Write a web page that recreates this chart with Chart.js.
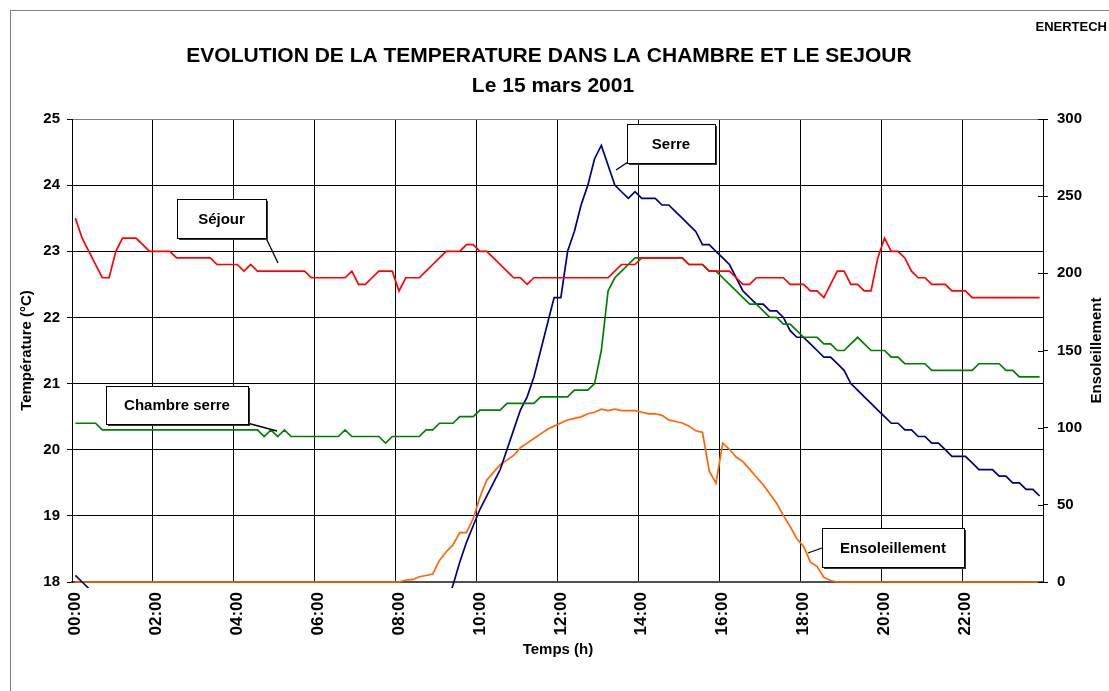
<!DOCTYPE html>
<html lang="fr">
<head>
<meta charset="UTF-8">
<title>Evolution de la température dans la chambre et le séjour</title>
<script src="https://cdn.jsdelivr.net/npm/chart.js"></script>
<style>
  body { margin: 0; background: #fff; }
  #chart { display: block; }
</style>
</head>
<body>
<canvas id="chart" width="1109" height="691"></canvas>
<script>
// pas de 10 minutes sur la journee
const heures = [
  '00:00','00:10','00:20','00:30','00:40','00:50','01:00','01:10','01:20','01:30','01:40','01:50',
  '02:00','02:10','02:20','02:30','02:40','02:50','03:00','03:10','03:20','03:30','03:40','03:50',
  '04:00','04:10','04:20','04:30','04:40','04:50','05:00','05:10','05:20','05:30','05:40','05:50',
  '06:00','06:10','06:20','06:30','06:40','06:50','07:00','07:10','07:20','07:30','07:40','07:50',
  '08:00','08:10','08:20','08:30','08:40','08:50','09:00','09:10','09:20','09:30','09:40','09:50',
  '10:00','10:10','10:20','10:30','10:40','10:50','11:00','11:10','11:20','11:30','11:40','11:50',
  '12:00','12:10','12:20','12:30','12:40','12:50','13:00','13:10','13:20','13:30','13:40','13:50',
  '14:00','14:10','14:20','14:30','14:40','14:50','15:00','15:10','15:20','15:30','15:40','15:50',
  '16:00','16:10','16:20','16:30','16:40','16:50','17:00','17:10','17:20','17:30','17:40','17:50',
  '18:00','18:10','18:20','18:30','18:40','18:50','19:00','19:10','19:20','19:30','19:40','19:50',
  '20:00','20:10','20:20','20:30','20:40','20:50','21:00','21:10','21:20','21:30','21:40','21:50',
  '22:00','22:10','22:20','22:30','22:40','22:50','23:00','23:10','23:20','23:30','23:40','23:50'
];

// temperatures en °C
const sejour = [
  23.5,23.2,23.0,22.8,22.6,22.6,23.0,23.2,23.2,23.2,23.1,23.0,
  23.0,23.0,23.0,22.9,22.9,22.9,22.9,22.9,22.9,22.8,22.8,22.8,
  22.8,22.7,22.8,22.7,22.7,22.7,22.7,22.7,22.7,22.7,22.7,22.6,
  22.6,22.6,22.6,22.6,22.6,22.7,22.5,22.5,22.6,22.7,22.7,22.7,
  22.4,22.6,22.6,22.6,22.7,22.8,22.9,23.0,23.0,23.0,23.1,23.1,
  23.0,23.0,22.9,22.8,22.7,22.6,22.6,22.5,22.6,22.6,22.6,22.6,
  22.6,22.6,22.6,22.6,22.6,22.6,22.6,22.6,22.7,22.8,22.8,22.8,
  22.9,22.9,22.9,22.9,22.9,22.9,22.9,22.8,22.8,22.8,22.7,22.7,
  22.7,22.7,22.6,22.5,22.5,22.6,22.6,22.6,22.6,22.6,22.5,22.5,
  22.5,22.4,22.4,22.3,22.5,22.7,22.7,22.5,22.5,22.4,22.4,22.9,
  23.2,23.0,23.0,22.9,22.7,22.6,22.6,22.5,22.5,22.5,22.4,22.4,
  22.4,22.3,22.3,22.3,22.3,22.3,22.3,22.3,22.3,22.3,22.3,22.3
];
const chambreSerre = [
  20.4,20.4,20.4,20.4,20.3,20.3,20.3,20.3,20.3,20.3,20.3,20.3,
  20.3,20.3,20.3,20.3,20.3,20.3,20.3,20.3,20.3,20.3,20.3,20.3,
  20.3,20.3,20.3,20.3,20.2,20.3,20.2,20.3,20.2,20.2,20.2,20.2,
  20.2,20.2,20.2,20.2,20.3,20.2,20.2,20.2,20.2,20.2,20.1,20.2,
  20.2,20.2,20.2,20.2,20.3,20.3,20.4,20.4,20.4,20.5,20.5,20.5,
  20.6,20.6,20.6,20.6,20.7,20.7,20.7,20.7,20.7,20.8,20.8,20.8,
  20.8,20.8,20.9,20.9,20.9,21.0,21.5,22.4,22.6,22.7,22.8,22.9,
  22.9,22.9,22.9,22.9,22.9,22.9,22.9,22.8,22.8,22.8,22.7,22.7,
  22.6,22.5,22.4,22.3,22.2,22.2,22.1,22.0,22.0,21.9,21.9,21.8,
  21.7,21.7,21.7,21.6,21.6,21.5,21.5,21.6,21.7,21.6,21.5,21.5,
  21.5,21.4,21.4,21.3,21.3,21.3,21.3,21.2,21.2,21.2,21.2,21.2,
  21.2,21.2,21.3,21.3,21.3,21.3,21.2,21.2,21.1,21.1,21.1,21.1
];
// la nuit la serre descend sous 18 °C (hors du cadre)
const serre = [
  18.1,18.0,17.9,17.8,17.7,17.7,17.6,17.6,17.6,17.5,17.5,17.5,
  17.4,17.4,17.4,17.4,17.3,17.3,17.3,17.3,17.2,17.2,17.2,17.2,
  17.2,17.1,17.1,17.1,17.1,17.1,17.0,17.0,17.0,17.0,17.0,17.0,
  16.9,16.9,16.9,16.9,16.9,16.9,16.9,16.9,16.9,16.9,16.9,16.9,
  16.9,17.0,17.0,17.1,17.1,17.1,17.3,17.65,17.95,18.3,18.6,18.85,
  19.1,19.3,19.5,19.7,20.0,20.3,20.6,20.8,21.1,21.5,21.9,22.3,
  22.3,23.0,23.3,23.7,24.0,24.4,24.6,24.3,24.0,23.9,23.8,23.9,
  23.8,23.8,23.8,23.7,23.7,23.6,23.5,23.4,23.3,23.1,23.1,23.0,
  22.9,22.8,22.6,22.4,22.3,22.2,22.2,22.1,22.1,22.0,21.8,21.7,
  21.7,21.6,21.5,21.4,21.4,21.3,21.2,21.0,20.9,20.8,20.7,20.6,
  20.5,20.4,20.4,20.3,20.3,20.2,20.2,20.1,20.1,20.0,19.9,19.9,
  19.9,19.8,19.7,19.7,19.7,19.6,19.6,19.5,19.5,19.4,19.4,19.3
];
// ensoleillement (axe de droite)
const ensoleillement = [
  0,0,0,0,0,0,0,0,0,0,0,0,
  0,0,0,0,0,0,0,0,0,0,0,0,
  0,0,0,0,0,0,0,0,0,0,0,0,
  0,0,0,0,0,0,0,0,0,0,0,0,
  0,1.3,1.5,3.4,4.2,5.2,14,19.6,24,32,32,41,
  55,66,71,76,79,82,87,90,93,96,99,101,
  103,105,106,107,109,110,112,111,112,111,111,111,
  110,109,109,108,105,104,103,101,98,97,72,64,
  90,86,81,78,73,68,63,57,51,43,36,28,
  23,13,10,3,1,0,0,0,0,0,0,0,
  0,0,0,0,0,0,0,0,0,0,0,0,
  0,0,0,0,0,0,0,0,0,0,0,0
];

const titre = 'EVOLUTION DE LA TEMPERATURE DANS LA CHAMBRE ET LE SEJOUR';
const sousTitre = 'Le 15 mars 2001';

// etiquettes encadrees avec leur trait
const etiquettes = [
  { texte: 'Séjour', box: [177, 199, 89, 39], trait: [266, 238, 278, 263] },
  { texte: 'Serre', box: [627, 124, 88, 39], trait: [628, 162, 616, 170] },
  { texte: 'Chambre serre', box: [106, 386, 142, 38], trait: [247, 423, 277, 431] },
  { texte: 'Ensoleillement', box: [822, 528, 142, 39], trait: [822, 548, 808, 553] }
];

const police = '"Liberation Sans", Arial, sans-serif';

function texteVertical(c, txt, x, y) {
  c.save();
  c.translate(x, y);
  c.rotate(-Math.PI / 2);
  c.fillText(txt, 0, 0);
  c.restore();
}

const decor = {
  id: 'decor',
  beforeDraw(chart) {
    const c = chart.ctx;
    c.save();
    c.fillStyle = '#fff';
    c.fillRect(0, 0, chart.width, chart.height);
    c.strokeStyle = '#808080';
    c.lineWidth = 1;
    c.strokeRect(10.5, 10.5, chart.width, chart.height);
    c.restore();
  },
  afterDraw(chart) {
    const c = chart.ctx;
    const a = chart.chartArea;
    const milieu = (a.top + a.bottom) / 2;
    c.save();
    c.fillStyle = '#000';
    c.textBaseline = 'middle';

    c.font = 'bold 13px ' + police;
    c.textAlign = 'right';
    c.fillText('ENERTECH', 1107, 27);

    c.textAlign = 'center';
    c.font = 'bold 21px ' + police;
    c.fillText(titre, 549, 56);
    c.fillText(sousTitre, 553, 86);

    c.font = 'bold 15px ' + police;
    c.fillText('Temps (h)', 558, 650);
    texteVertical(c, 'Température (°C)', 27, milieu);
    texteVertical(c, 'Ensoleillement', 1097, milieu);

    // petits traits interieurs de l'axe de droite
    const r = chart.scales.yR;
    c.strokeStyle = '#000';
    c.lineWidth = 1;
    r.ticks.forEach(t => {
      const y = Math.round(r.getPixelForValue(t.value)) + 0.5;
      c.beginPath();
      c.moveTo(a.right - 5, y);
      c.lineTo(a.right, y);
      c.stroke();
    });

    etiquettes.forEach(e => {
      const [x, y, w, h] = e.box;
      c.strokeStyle = '#000';
      c.lineWidth = 1.3;
      c.beginPath();
      c.moveTo(e.trait[0], e.trait[1]);
      c.lineTo(e.trait[2], e.trait[3]);
      c.stroke();
      c.fillStyle = '#333';
      c.fillRect(x + 2, y + 2, w, h);
      c.fillStyle = '#fff';
      c.fillRect(x, y, w, h);
      c.lineWidth = 1;
      c.strokeRect(x + 0.5, y + 0.5, w, h);
      c.fillStyle = '#000';
      c.fillText(e.texte, x + w / 2, y + h / 2 + 1);
    });
    c.restore();
  }
};

const clipBas = { left: 0, top: 0, right: 0, bottom: 6 };
const tickFont = { family: police, weight: 'bold', size: 15 };

new Chart(document.getElementById('chart'), {
  type: 'line',
  data: {
    labels: heures,
    datasets: [
      { label: 'Séjour', data: sejour, borderColor: '#ff0000', yAxisID: 'y' },
      { label: 'Chambre serre', data: chambreSerre, borderColor: '#008000', yAxisID: 'y' },
      { label: 'Serre', data: serre, borderColor: '#000080', yAxisID: 'y' },
      { label: 'Ensoleillement', data: ensoleillement, borderColor: '#ff6600', yAxisID: 'yR' }
    ].map(d => Object.assign(d, {
      borderWidth: 1.7, pointRadius: 0, tension: 0, fill: false, clip: clipBas
    }))
  },
  options: {
    responsive: false,
    devicePixelRatio: 1,
    animation: false,
    layout: { padding: { top: 119, left: 10, right: 0, bottom: 0 } },
    plugins: { legend: { display: false }, tooltip: { enabled: false }, title: { display: false } },
    scales: {
      x: {
        type: 'category',
        offset: true,
        grid: {
          offset: true,
          drawTicks: false,
          lineWidth: 1,
          color: ctx => (ctx.index === undefined || ctx.index % 12 === 0) ? '#000' : 'rgba(0,0,0,0)'
        },
        border: { color: '#505050', width: 2 },
        ticks: {
          autoSkip: false, minRotation: 90, maxRotation: 90, padding: 10,
          color: '#000', font: { family: police, weight: 'bold', size: 17 },
          callback: (v, i) => i % 12 === 0 ? heures[i] : ''
        },
        afterFit: s => { s.height = 109; }
      },
      y: {
        position: 'left', min: 18, max: 25,
        ticks: { stepSize: 1, padding: 7, color: '#000', font: tickFont },
        grid: {
          color: ctx => (ctx.tick && ctx.tick.value === 25) ? '#808080' : '#000',
          tickColor: '#000', tickLength: 5
        },
        border: { color: '#000' },
        afterFit: s => { s.width = 62; }
      },
      yR: {
        position: 'right', min: 0, max: 300,
        ticks: { stepSize: 50, padding: 9, color: '#000', font: tickFont },
        grid: { drawOnChartArea: false, tickColor: '#000', tickLength: 5 },
        border: { color: '#000' },
        afterFit: s => { s.width = 66; }
      }
    }
  },
  plugins: [decor]
});
</script>
</body>
</html>
